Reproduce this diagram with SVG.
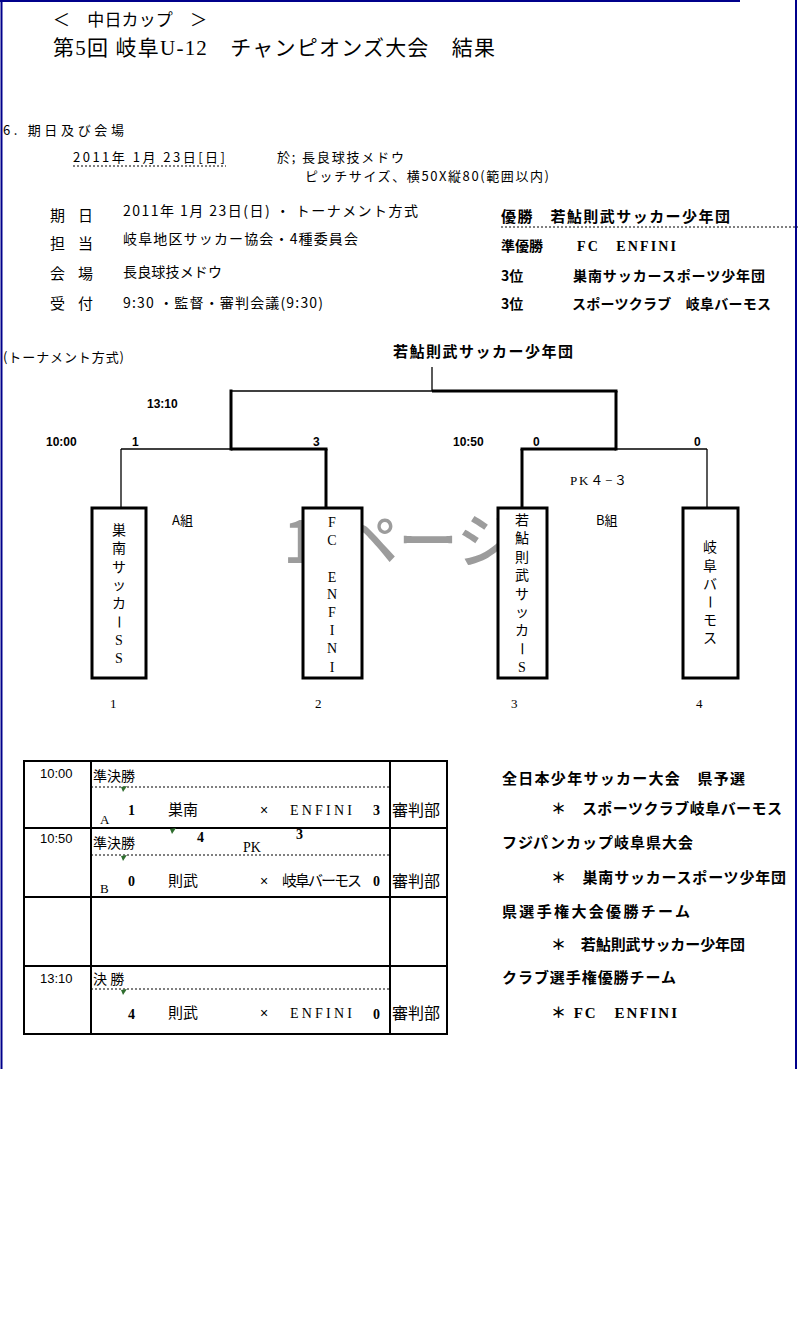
<svg xmlns="http://www.w3.org/2000/svg" width="798" height="1338" viewBox="0 0 798 1338">
<style>
.j{font-family:"Noto Sans CJK JP","Liberation Sans",sans-serif;fill:#000}
.s{font-family:"Liberation Serif","Noto Sans CJK JP",serif;fill:#000}
.l{font-family:"Liberation Sans","Noto Sans CJK JP",sans-serif;fill:#000}
.b{font-weight:bold}
.wm{font-family:"Noto Sans CJK JP",sans-serif;font-size:60px;font-weight:500;fill:#9c9c9c}
.thin{stroke:#000;stroke-width:1.3;fill:none}
.thick{stroke:#000;stroke-width:3;fill:none}
.box{fill:#fff;stroke:#000;stroke-width:3}
.grid{stroke:#000;stroke-width:2;fill:none}
.dot{stroke:#000;stroke-width:1;stroke-dasharray:2 2;fill:none}
.mk{fill:#2f6e2f}
.vc{font-family:"Noto Sans CJK JP",sans-serif;font-size:14px;text-anchor:middle;fill:#000}
.vl{font-family:"Liberation Serif",serif;font-size:14px;text-anchor:middle;fill:#000}
</style>
<rect x="0" y="0" width="798" height="1338" fill="#fff"/>
<g id="border" stroke="#00008b" stroke-width="2" fill="none">
<line x1="1.5" y1="0" x2="1.5" y2="1069"/>
<line x1="796" y1="0" x2="796" y2="1069"/>
<line x1="0" y1="1" x2="740" y2="1"/>
</g>
<g id="title">
<text class="s" x="53" y="26" font-size="17" textLength="154">＜　中日カップ　＞</text>
<text class="s" x="53" y="55" font-size="21" textLength="442">第5回 岐阜U-12　チャンピオンズ大会　結果</text>
</g>
<g id="info">
<text class="j" x="3" y="135" font-size="13" textLength="121">6. 期日及び会場</text>
<text class="j" x="73" y="162" font-size="13" textLength="152">2011年 1月 23日[日]</text>
<line class="dot" x1="73" y1="166" x2="226" y2="166" stroke-width="1.5"/>
<text class="j" x="277" y="162" font-size="13" textLength="127">於; 長良球技メドウ</text>
<text class="j" x="305" y="181" font-size="13" textLength="244">ピッチサイズ、横50X縦80(範囲以内)</text>
<text class="j" x="50" y="221" font-size="15" textLength="43">期 日</text>
<text class="j" x="123" y="216" font-size="14" textLength="295">2011年 1月 23日(日) ・ トーナメント方式</text>
<text class="j" x="50" y="249" font-size="15" textLength="43">担 当</text>
<text class="j" x="123" y="244" font-size="14" textLength="235">岐阜地区サッカー協会・4種委員会</text>
<text class="j" x="50" y="279" font-size="15" textLength="43">会 場</text>
<text class="j" x="123" y="277" font-size="14" textLength="99">長良球技メドウ</text>
<text class="j" x="50" y="309" font-size="15" textLength="43">受 付</text>
<text class="j" x="123" y="308" font-size="14" textLength="200">9:30 ・監督・審判会議(9:30)</text>
</g>
<g id="results">
<text class="j b" x="501" y="222" font-size="15" textLength="229">優勝　若鮎則武サッカー少年団</text>
<line class="dot" x1="501" y1="227" x2="798" y2="227"/>
<text class="j b" x="501" y="251" font-size="14">準優勝</text>
<text class="s b" x="577" y="251" font-size="14" textLength="99">FC　ENFINI</text>
<text class="j b" x="501" y="281" font-size="14">3位</text>
<text class="j b" x="573" y="281" font-size="14" textLength="192">巣南サッカースポーツ少年団</text>
<text class="j b" x="501" y="309" font-size="14">3位</text>
<text class="j b" x="572" y="309" font-size="14" textLength="199">スポーツクラブ　岐阜バーモス</text>
</g>
<g id="watermark">
<text class="wm" x="283" y="563">1</text>
<text class="wm" x="338" y="563">ペ</text>
<text class="wm" x="398" y="563">ー</text>
<text class="wm" x="457" y="563">ジ</text>
</g>
<g id="bracket-labels">
<text class="j" x="3" y="362" font-size="13" textLength="121">(トーナメント方式)</text>
<text class="j b" x="393" y="357" font-size="15" textLength="180">若鮎則武サッカー少年団</text>
<text class="l b" x="147" y="408" font-size="12">13:10</text>
<text class="l b" x="46" y="446" font-size="12">10:00</text>
<text class="l b" x="132" y="446" font-size="12">1</text>
<text class="l b" x="313" y="446" font-size="12">3</text>
<text class="l b" x="453" y="446" font-size="12">10:50</text>
<text class="l b" x="533" y="446" font-size="12">0</text>
<text class="l b" x="694" y="446" font-size="12">0</text>
<text class="s" x="570" y="485" font-size="13" textLength="57">PK４−３</text>
<text class="j" x="172" y="525" font-size="13">A組</text>
<text class="j" x="596" y="525" font-size="13">B組</text>
<text class="s" x="110" y="708" font-size="13">1</text>
<text class="s" x="315" y="708" font-size="13">2</text>
<text class="s" x="511" y="708" font-size="13">3</text>
<text class="s" x="696" y="708" font-size="13">4</text>
</g>
<g id="connectors">
<line class="thin" x1="432" y1="367" x2="432" y2="391"/>
<line class="thin" x1="231" y1="391" x2="432" y2="391"/>
<line class="thick" x1="432" y1="391" x2="617.5" y2="391"/>
<line class="thick" x1="231" y1="389.5" x2="231" y2="450.5"/>
<line class="thick" x1="616" y1="391" x2="616" y2="450.5"/>
<line class="thin" x1="121" y1="449" x2="231" y2="449"/>
<line class="thick" x1="231" y1="449" x2="327.5" y2="449"/>
<line class="thin" x1="121" y1="449" x2="121" y2="508"/>
<line class="thick" x1="326" y1="449" x2="326" y2="508"/>
<line class="thick" x1="520.5" y1="449" x2="616" y2="449"/>
<line class="thin" x1="616" y1="449" x2="707" y2="449"/>
<line class="thick" x1="522" y1="449" x2="522" y2="508"/>
<line class="thin" x1="707" y1="449" x2="707" y2="508"/>
</g>
<g id="team1">
<rect class="box" x="92" y="508" width="54" height="170"/>
<text class="vc" x="119" y="535">巣</text>
<text class="vc" x="119" y="553">南</text>
<text class="vc" x="119" y="572">サ</text>
<text class="vc" x="119" y="590">ッ</text>
<text class="vc" x="119" y="608">カ</text>
<text class="vc" x="119" y="627" transform="rotate(90 119 622)">ー</text>
<text class="vl" x="119" y="645">S</text>
<text class="vl" x="119" y="663">S</text>
</g>
<g id="team2">
<rect class="box" x="303" y="508" width="59" height="170"/>
<text class="vl" x="332" y="527">F</text>
<text class="vl" x="332" y="545">C</text>
<text class="vl" x="332" y="582">E</text>
<text class="vl" x="332" y="599">N</text>
<text class="vl" x="332" y="617">F</text>
<text class="vl" x="332" y="635">I</text>
<text class="vl" x="332" y="653">N</text>
<text class="vl" x="332" y="672">I</text>
</g>
<g id="team3">
<rect class="box" x="498" y="508" width="49" height="170"/>
<text class="vc" x="522" y="525">若</text>
<text class="vc" x="522" y="543.4">鮎</text>
<text class="vc" x="522" y="561.8">則</text>
<text class="vc" x="522" y="580.2">武</text>
<text class="vc" x="522" y="598.6">サ</text>
<text class="vc" x="522" y="617">ッ</text>
<text class="vc" x="522" y="635.4">カ</text>
<text class="vc" x="522" y="653.8" transform="rotate(90 522 648.8)">ー</text>
<text class="vl" x="522" y="672">S</text>
</g>
<g id="team4">
<rect class="box" x="683" y="508" width="55" height="170"/>
<text class="vc" x="710" y="552">岐</text>
<text class="vc" x="710" y="571">阜</text>
<text class="vc" x="710" y="589">バ</text>
<text class="vc" x="710" y="607" transform="rotate(90 710 602)">ー</text>
<text class="vc" x="710" y="625">モ</text>
<text class="vc" x="710" y="643">ス</text>
</g>
<g id="schedule">
<rect class="grid" x="24" y="761" width="423" height="273"/>
<line class="grid" x1="24" y1="828" x2="447" y2="828"/>
<line class="grid" x1="24" y1="897" x2="447" y2="897"/>
<line class="grid" x1="24" y1="966" x2="447" y2="966"/>
<line class="grid" x1="91" y1="761" x2="91" y2="1034"/>
<line class="grid" x1="390" y1="761" x2="390" y2="1034"/>
<line class="dot" x1="91" y1="787" x2="390" y2="787"/>
<line class="dot" x1="91" y1="855" x2="390" y2="855"/>
<line class="dot" x1="91" y1="989" x2="390" y2="989"/>
<polygon class="mk" points="121,787 127,786 123,792"/>
<polygon class="mk" points="170,829 176,828 172,834"/>
<polygon class="mk" points="121,856 127,855 123,861"/>
<polygon class="mk" points="121,990 127,989 123,995"/>
<text class="l" x="40" y="778" font-size="13">10:00</text>
<text class="j" x="93" y="781" font-size="14">準決勝</text>
<text class="s" x="100" y="824" font-size="13">A</text>
<text class="s b" x="128" y="815" font-size="14">1</text>
<text class="j" x="168" y="815" font-size="15">巣南</text>
<text class="l" x="260" y="815" font-size="14">×</text>
<text class="s" x="290" y="815" font-size="14" textLength="62">ENFINI</text>
<text class="s b" x="373" y="815" font-size="14">3</text>
<text class="j" x="392" y="816" font-size="16">審判部</text>
<text class="l" x="40" y="843" font-size="13">10:50</text>
<text class="j" x="93" y="848" font-size="14">準決勝</text>
<text class="s b" x="197" y="842" font-size="14">4</text>
<text class="s" x="243" y="852" font-size="14">PK</text>
<text class="s b" x="296" y="839" font-size="14">3</text>
<text class="s" x="100" y="893" font-size="13">B</text>
<text class="s b" x="128" y="886" font-size="14">0</text>
<text class="j" x="168" y="886" font-size="15">則武</text>
<text class="l" x="260" y="886" font-size="14">×</text>
<text class="j" x="282" y="886" font-size="15" textLength="80">岐阜バーモス</text>
<text class="s b" x="373" y="886" font-size="14">0</text>
<text class="j" x="392" y="887" font-size="16">審判部</text>
<text class="l" x="40" y="983" font-size="13">13:10</text>
<text class="j" x="93" y="984" font-size="14">決 勝</text>
<text class="s b" x="128" y="1019" font-size="14">4</text>
<text class="j" x="168" y="1018" font-size="15">則武</text>
<text class="l" x="260" y="1018" font-size="14">×</text>
<text class="s" x="290" y="1018" font-size="14" textLength="62">ENFINI</text>
<text class="s b" x="373" y="1019" font-size="14">0</text>
<text class="j" x="392" y="1019" font-size="16">審判部</text>
</g>
<g id="qualifiers">
<text class="j b" x="502" y="784" font-size="15" textLength="243">全日本少年サッカー大会　県予選</text>
<text class="j b" x="551" y="814" font-size="15" textLength="231">＊　スポーツクラブ岐阜バーモス</text>
<text class="j b" x="502" y="848" font-size="15" textLength="191">フジパンカップ岐阜県大会</text>
<text class="j b" x="551" y="883" font-size="15" textLength="235">＊　巣南サッカースポーツ少年団</text>
<text class="j b" x="502" y="917" font-size="15" textLength="188">県選手権大会優勝チーム</text>
<text class="j b" x="551" y="950" font-size="15" textLength="194">＊　若鮎則武サッカー少年団</text>
<text class="j b" x="502" y="983" font-size="15" textLength="174">クラブ選手権優勝チーム</text>
<text class="s b" x="551" y="1018" font-size="15" textLength="126">＊ FC　ENFINI</text>
</g>
</svg>
